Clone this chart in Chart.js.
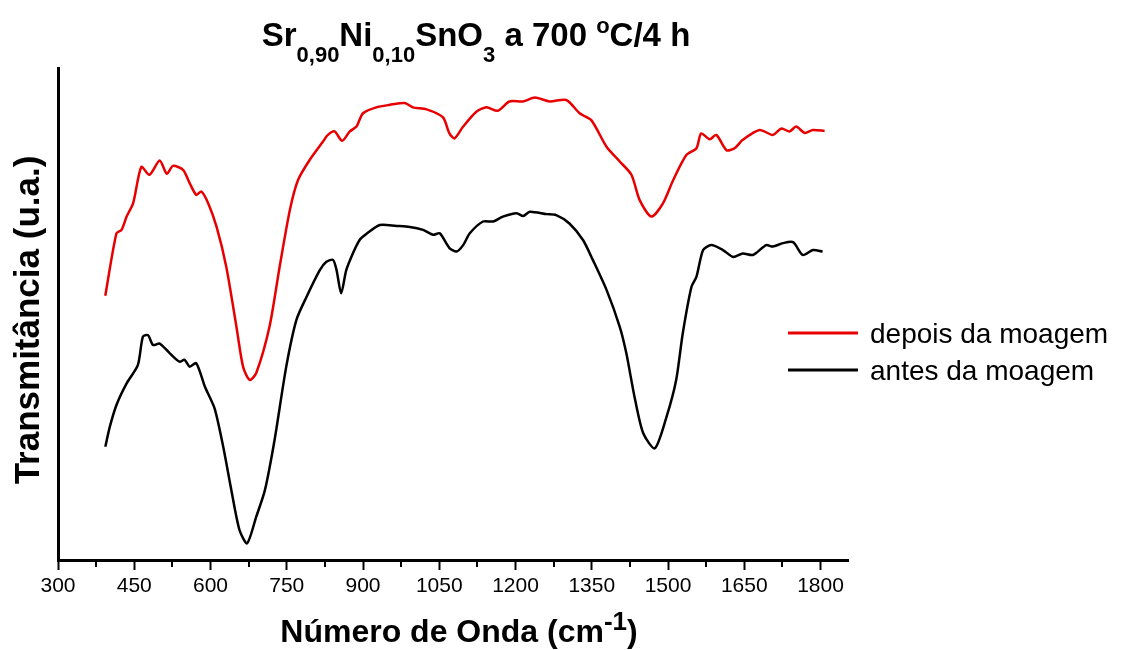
<!DOCTYPE html>
<html>
<head>
<meta charset="utf-8">
<script src="https://cdn.jsdelivr.net/npm/chart.js@4.4.1/dist/chart.umd.min.js"></script>
<style>
  html, body { margin: 0; padding: 0; background: #fff; }
  #wrap { width: 1121px; height: 650px; position: relative; }
</style>
</head>
<body>
<div id="wrap"><canvas id="c" width="1121" height="650"></canvas></div>
<script>
// ---- Data ----
const seriesLabels = ['depois da moagem', 'antes da moagem'];
const seriesColors = ['rgb(232,0,0)', '#000000'];

const redWavenumber = [393, 415, 425, 435, 448, 464, 480, 500, 514, 526, 546, 559, 572, 582, 595, 612, 631, 651, 664, 677, 690, 716, 736, 756, 772, 795, 821, 831, 844, 859, 874, 887, 900, 926, 952, 982, 998, 1025, 1057, 1070, 1080, 1097, 1123, 1143, 1165, 1188, 1215, 1238, 1267, 1300, 1326, 1349, 1379, 1405, 1428, 1444, 1467, 1490, 1510, 1536, 1556, 1565, 1582, 1595, 1615, 1631, 1647, 1680, 1706, 1723, 1739, 1752, 1769, 1785, 1808];
const redTransmittance = [53.7, 66.4, 67.1, 69.8, 72.6, 79.9, 78.3, 81.2, 78.5, 80.1, 79.3, 76.6, 74.2, 74.9, 72.6, 67.7, 59.6, 47.4, 39.3, 36.6, 38.0, 47.4, 59.6, 71.1, 77.2, 81.3, 85.0, 86.4, 87.1, 85.2, 87.1, 88.1, 90.8, 92.0, 92.5, 92.9, 92.0, 91.6, 90.0, 86.7, 85.7, 88.1, 91.1, 92.0, 91.3, 93.2, 93.2, 94.0, 93.2, 93.5, 90.8, 89.4, 84.0, 81.0, 78.3, 73.2, 69.8, 72.5, 77.2, 82.3, 83.7, 86.7, 85.5, 86.4, 83.3, 83.7, 85.4, 87.4, 86.4, 87.7, 87.1, 88.1, 86.8, 87.4, 87.2];

const blackWavenumber = [393, 402, 415, 435, 457, 467, 477, 487, 500, 520, 539, 549, 559, 572, 589, 608, 625, 641, 657, 672, 690, 707, 726, 749, 769, 789, 815, 828, 841, 848, 857, 867, 880, 893, 907, 933, 966, 992, 1018, 1038, 1051, 1070, 1084, 1097, 1110, 1136, 1156, 1175, 1202, 1215, 1228, 1261, 1280, 1306, 1333, 1352, 1379, 1405, 1418, 1434, 1451, 1474, 1497, 1516, 1529, 1546, 1556, 1569, 1585, 1608, 1628, 1647, 1667, 1693, 1706, 1726, 1746, 1765, 1785, 1804];
const blackTransmittance = [23.0, 27.1, 31.5, 35.9, 39.6, 45.4, 45.7, 43.7, 44.0, 42.0, 40.3, 40.7, 39.3, 40.0, 35.2, 30.8, 23.0, 14.2, 6.1, 3.4, 8.8, 14.2, 24.4, 39.3, 48.8, 53.5, 58.9, 60.6, 61.0, 58.9, 54.2, 58.9, 62.3, 65.0, 66.3, 68.1, 67.9, 67.7, 67.1, 66.1, 66.4, 63.4, 62.7, 64.0, 66.4, 68.8, 68.8, 69.8, 70.5, 69.9, 70.8, 70.3, 70.1, 68.4, 65.0, 61.0, 54.9, 47.4, 42.0, 33.2, 25.8, 22.7, 29.1, 36.6, 46.1, 55.5, 57.6, 63.0, 64.0, 63.0, 61.6, 62.3, 62.0, 64.0, 63.7, 64.4, 64.6, 62.0, 63.0, 62.7];

const xMin = 300, xMax = 1854, xStep = 75, xLabelStep = 150;
const yMin = 0, yMax = 100;

// ---- Text ----
const titleParts = [
  { t: 'Sr', k: 'n' }, { t: '0,90', k: 'sub' }, { t: 'Ni', k: 'n' }, { t: '0,10', k: 'sub' },
  { t: 'SnO', k: 'n' }, { t: '3', k: 'sub' }, { t: ' a 700 ', k: 'n' }, { t: 'o', k: 'sup' }, { t: 'C/4 h', k: 'n' }
];
const xTitleParts = [ { t: 'Número de Onda (cm', k: 'n' }, { t: '-1', k: 'sup' }, { t: ')', k: 'n' } ];
const yTitle = 'Transmitância (u.a.)';

const FONT = '"Liberation Sans", Arial, sans-serif';

function drawParts(ctx, parts, cx, baseline, sizes) {
  let total = 0;
  const widths = parts.map(p => {
    ctx.font = 'bold ' + sizes[p.k] + 'px ' + FONT;
    const w = ctx.measureText(p.t).width;
    total += w;
    return w;
  });
  let x = cx - total / 2;
  parts.forEach((p, i) => {
    ctx.font = 'bold ' + sizes[p.k] + 'px ' + FONT;
    const dy = p.k === 'sub' ? sizes.subDy : (p.k === 'sup' ? sizes.supDy : 0);
    ctx.fillText(p.t, x, baseline + dy);
    x += widths[i];
  });
}

const textPlugin = {
  id: 'texts',
  afterDraw(chart) {
    const ctx = chart.ctx;
    const xs = chart.scales.x;
    ctx.save();
    // Minor ticks (every xStep that is not a labelled value)
    ctx.strokeStyle = '#000';
    ctx.lineWidth = 2;
    for (let v = xMin; v <= xMax; v += xStep) {
      if (v % xLabelStep !== 0) {
        const px = Math.round(xs.getPixelForValue(v));
        ctx.beginPath();
        ctx.moveTo(px, xs.top);
        ctx.lineTo(px, xs.top + 7);
        ctx.stroke();
      }
    }
    ctx.fillStyle = '#000';
    ctx.textAlign = 'left';
    ctx.textBaseline = 'alphabetic';
    // Title
    drawParts(ctx, titleParts, 476, 46, { n: 33, sub: 22, sup: 22, subDy: 16, supDy: -13 });
    // X axis title
    drawParts(ctx, xTitleParts, 459, 642, { n: 32, sub: 24, sup: 26, subDy: 10, supDy: -12 });
    // Y axis title
    ctx.save();
    ctx.translate(39, 320);
    ctx.rotate(-Math.PI / 2);
    ctx.font = 'bold 35px ' + FONT;
    ctx.textAlign = 'center';
    ctx.fillText(yTitle, 0, 0);
    ctx.restore();
    // Legend
    ctx.font = '28px ' + FONT;
    ctx.textAlign = 'left';
    chart.data.datasets.forEach((ds, i) => {
      const ly = 333 + i * 37;
      ctx.strokeStyle = ds.borderColor;
      ctx.lineWidth = 3;
      ctx.beginPath();
      ctx.moveTo(788, ly);
      ctx.lineTo(858, ly);
      ctx.stroke();
      ctx.fillText(ds.label, 870, ly + 10);
    });
    ctx.restore();
  }
};

const toPoints = (xs, ys) => xs.map((x, i) => ({ x: x, y: ys[i] }));

new Chart(document.getElementById('c'), {
  type: 'line',
  data: {
    datasets: [
      { label: seriesLabels[0], data: toPoints(redWavenumber, redTransmittance), borderColor: seriesColors[0], borderWidth: 2.5, pointRadius: 0, tension: 0.25, fill: false },
      { label: seriesLabels[1], data: toPoints(blackWavenumber, blackTransmittance), borderColor: seriesColors[1], borderWidth: 2.5, pointRadius: 0, tension: 0.25, fill: false }
    ]
  },
  options: {
    responsive: false,
    animation: false,
    layout: { padding: { left: 0, top: 68, right: 273, bottom: 0 } },
    plugins: { legend: { display: false }, title: { display: false }, tooltip: { enabled: false } },
    scales: {
      x: {
        type: 'linear',
        min: xMin, max: xMax,
        afterFit(scale) { scale.height = 90; },
        border: { display: true, color: '#000', width: 3 },
        grid: {
          display: true, drawOnChartArea: false, drawTicks: true, tickLength: 10, tickWidth: 2,
          tickColor: c => (c.tick && c.tick.value % xLabelStep === 0 ? '#000' : 'rgba(0,0,0,0)')
        },
        ticks: {
          stepSize: xStep, includeBounds: false, autoSkip: false, maxRotation: 0, padding: 4,
          color: '#000', font: { family: FONT, size: 21 },
          callback: v => (v % xLabelStep === 0 ? String(v) : '')
        }
      },
      y: {
        type: 'linear',
        min: yMin, max: yMax,
        afterFit(scale) { scale.width = 58; },
        border: { display: true, color: '#000', width: 3 },
        grid: { display: false },
        ticks: { display: false }
      }
    }
  },
  plugins: [textPlugin]
});
</script>
</body>
</html>
